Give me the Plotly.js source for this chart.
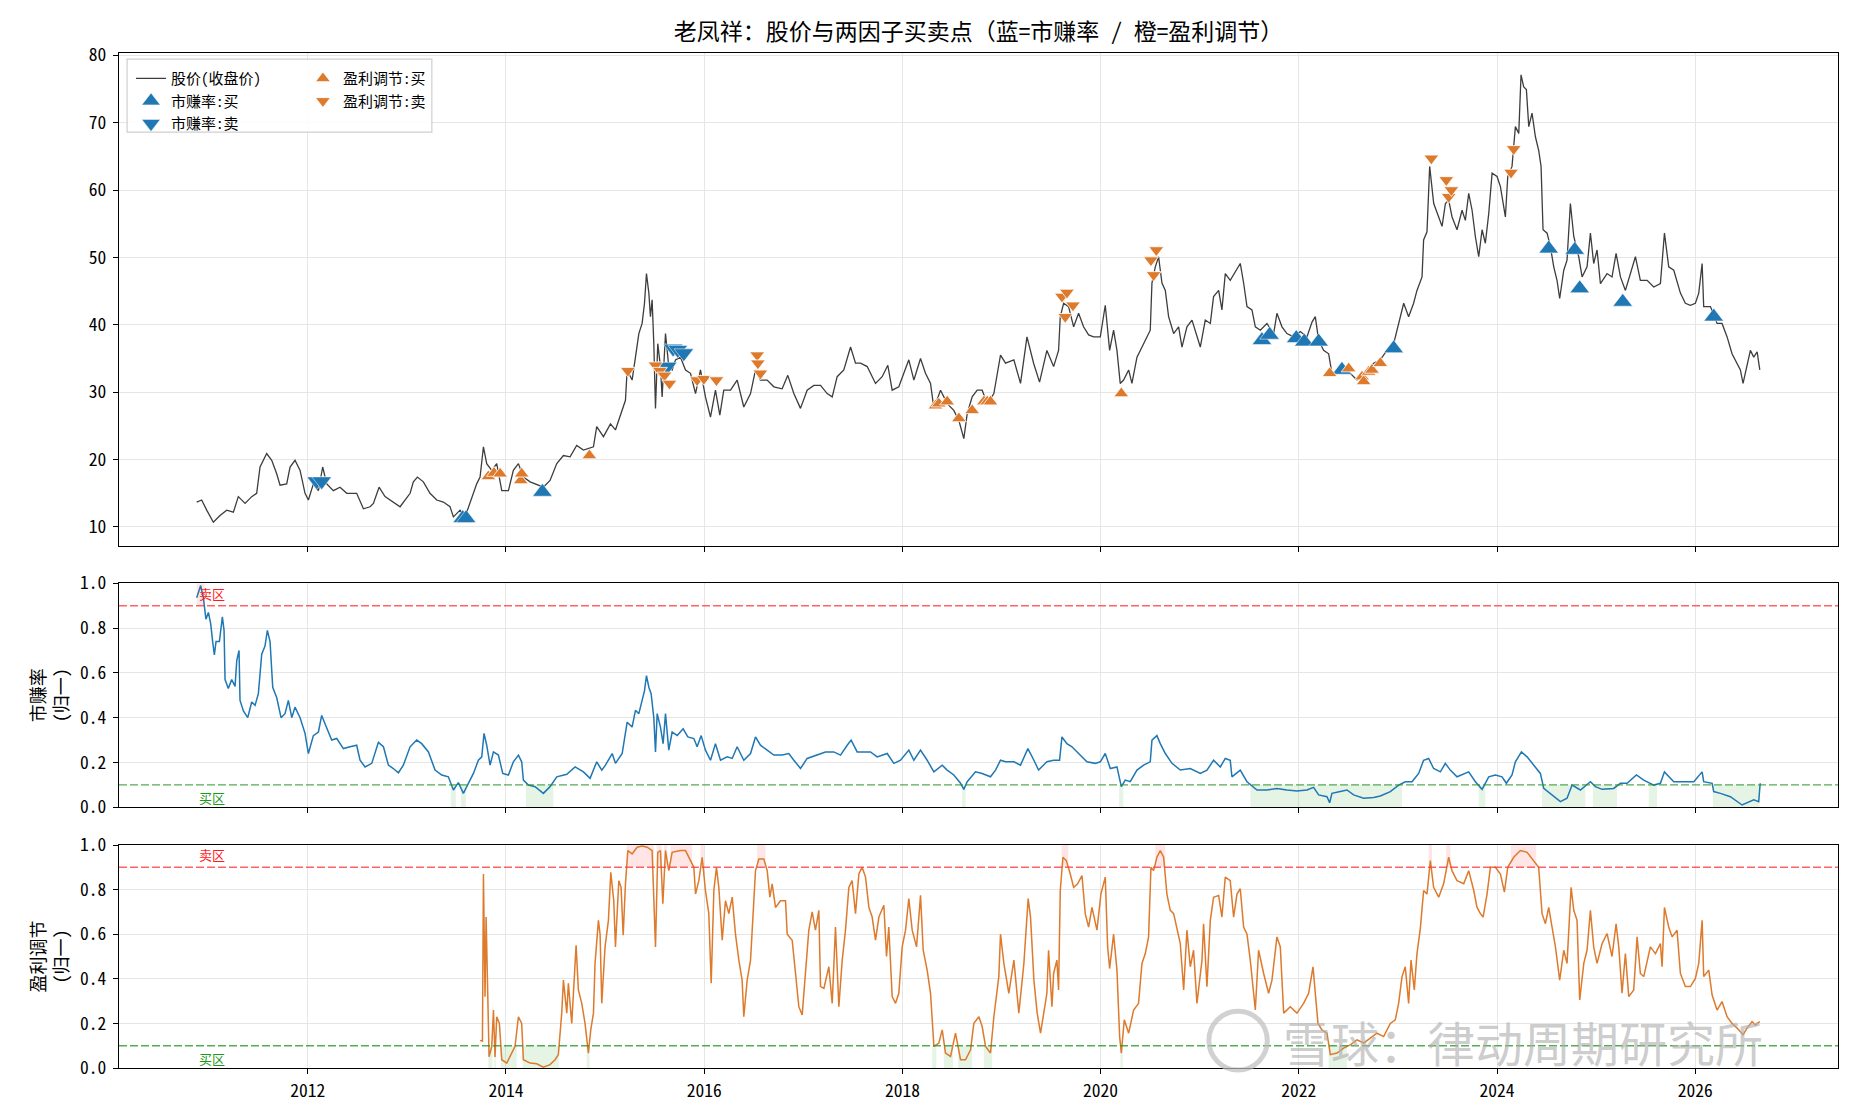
<!DOCTYPE html>
<html>
<head>
<meta charset="utf-8">
<script src="https://cdn.plot.ly/plotly-3.0.1.min.js"></script>
<style>html,body{margin:0;padding:0;background:#fff;}#chart{width:1859px;height:1118px;}</style>
</head>
<body>
<div id="chart"></div>
<script>
// ---------------- data ----------------
const tickYears = [2012, 2014, 2016, 2018, 2020, 2022, 2024, 2026];

const priceX = [2010.880,2010.930,2010.981,2011.048,2011.115,2011.183,2011.250,2011.300,2011.368,2011.435,2011.485,2011.519,2011.586,2011.637,2011.687,2011.721,2011.788,2011.822,2011.872,2011.923,2011.973,2012.007,2012.057,2012.108,2012.151,2012.192,2012.259,2012.326,2012.394,2012.494,2012.562,2012.629,2012.663,2012.720,2012.780,2012.864,2012.932,2013.033,2013.066,2013.107,2013.167,2013.234,2013.302,2013.369,2013.436,2013.470,2013.537,2013.588,2013.638,2013.705,2013.739,2013.773,2013.806,2013.857,2013.907,2013.958,2014.025,2014.075,2014.126,2014.176,2014.244,2014.328,2014.378,2014.445,2014.513,2014.580,2014.647,2014.714,2014.782,2014.883,2014.916,2014.984,
2015.055,2015.105,2015.156,2015.206,2015.223,2015.273,2015.307,2015.341,2015.374,2015.398,2015.418,2015.442,2015.458,2015.475,2015.492,2015.509,2015.532,2015.559,2015.576,2015.610,2015.643,2015.677,2015.711,2015.761,2015.812,2015.862,2015.913,2015.963,2016.013,2016.064,2016.114,2016.158,2016.198,2016.266,2016.333,2016.400,2016.468,2016.518,2016.568,2016.636,2016.703,2016.787,2016.844,2016.905,2016.972,2017.039,2017.107,2017.174,2017.241,2017.292,2017.342,2017.409,2017.477,2017.527,2017.578,2017.645,2017.729,2017.796,2017.853,2017.897,2017.964,2018.015,2018.065,2018.116,2018.183,2018.233,2018.284,2018.318,2018.385,2018.452,2018.519,2018.570,2018.620,2018.654,2018.704,2018.755,2018.805,2018.856,2018.923,2018.990,2019.041,2019.125,2019.192,
2019.257,2019.324,2019.384,2019.458,2019.526,2019.576,2019.593,2019.627,2019.677,2019.728,2019.778,2019.828,2019.879,2019.929,2019.997,2020.047,2020.091,2020.131,2020.165,2020.198,2020.232,2020.283,2020.316,2020.367,2020.434,2020.501,2020.518,2020.552,2020.585,2020.619,2020.653,2020.686,2020.737,2020.787,2020.821,2020.871,2020.922,2020.972,2021.006,2021.056,2021.107,2021.140,2021.191,2021.224,2021.258,2021.308,2021.359,2021.409,2021.443,2021.477,2021.527,2021.561,2021.611,2021.678,2021.746,2021.779,2021.830,2021.880,2021.948,2022.015,2022.082,2022.133,2022.166,2022.200,2022.250,2022.301,2022.334,2022.385,2022.519,2022.587,2022.654,2022.755,2022.822,2022.889,2022.957,2023.024,2023.058,2023.108,2023.158,2023.192,2023.243,2023.259,2023.293,2023.320,
2023.361,2023.411,2023.445,2023.479,2023.512,2023.546,2023.596,2023.647,2023.680,2023.714,2023.748,2023.781,2023.815,2023.849,2023.882,2023.916,2023.950,2024.000,2024.034,2024.084,2024.108,2024.151,2024.185,2024.219,2024.242,2024.269,2024.296,2024.320,2024.353,2024.387,2024.420,2024.444,2024.464,2024.505,2024.538,2024.572,2024.605,2024.632,2024.673,2024.706,2024.740,2024.774,2024.824,2024.858,2024.908,2024.942,2024.975,2025.009,2025.043,2025.110,2025.160,2025.201,2025.245,2025.295,2025.345,2025.396,2025.446,2025.514,2025.581,2025.648,2025.689,2025.732,2025.783,2025.816,2025.850,2025.900,2025.951,2026.001,2026.035,2026.069,2026.085,2026.153,2026.220,2026.270,2026.321,2026.371,2026.422,2026.455,2026.482,2026.523,2026.556,2026.590,2026.624,2026.651];
const priceY = [13.7,14.0,12.5,10.7,11.7,12.5,12.2,14.5,13.5,14.5,15.0,18.9,20.9,19.9,17.9,16.2,16.4,18.9,19.9,18.4,15.0,14.0,16.4,15.4,18.9,16.4,15.4,15.9,15.0,15.0,12.7,13.0,13.5,15.9,14.5,13.7,13.0,15.0,16.7,17.4,16.7,15.0,14.0,13.7,13.0,11.5,12.5,11.5,13.5,16.4,17.4,21.9,19.4,18.4,19.4,15.4,15.4,18.4,19.4,17.4,16.7,16.2,15.9,16.9,19.4,20.6,20.4,22.1,21.4,21.9,24.9,23.4,
25.3,24.4,26.8,28.8,33.3,31.8,35.2,38.7,40.2,43.2,47.6,44.7,41.2,43.7,37.2,27.6,37.2,33.8,29.3,38.7,33.8,33.3,34.8,35.2,33.3,32.8,29.8,33.3,29.3,26.3,30.3,26.6,30.3,30.3,31.8,27.8,29.8,33.3,31.8,31.8,30.8,30.5,32.5,29.8,27.6,30.3,31.0,31.0,29.8,29.3,32.3,33.3,36.7,34.3,34.3,33.8,31.3,32.3,34.0,30.3,30.8,32.8,34.8,31.8,35.0,32.8,31.3,27.6,30.3,28.3,27.3,25.8,23.1,26.8,29.3,30.3,30.3,28.3,29.8,35.5,34.3,34.8,31.3,
38.2,34.3,31.5,36.2,33.8,36.2,41.2,43.2,42.7,39.7,41.7,39.7,38.5,38.2,38.2,42.9,36.2,39.2,36.2,31.3,31.8,33.3,31.3,35.2,37.2,39.2,46.2,48.6,50.1,46.2,45.1,41.2,38.7,39.7,36.7,39.7,40.7,38.2,36.7,40.7,40.2,44.2,45.1,42.2,47.6,46.6,47.9,49.1,46.2,42.7,42.2,39.7,39.2,40.2,38.7,41.7,39.7,38.7,38.2,39.0,38.2,40.4,41.2,37.7,36.2,35.7,32.8,32.8,32.8,31.8,32.8,34.3,34.8,36.2,37.2,41.2,43.2,41.2,43.2,45.1,47.1,52.6,53.8,63.5,
58.0,56.0,54.6,58.0,58.5,56.0,54.1,57.0,55.5,59.5,57.0,53.1,50.1,54.1,52.1,56.5,62.5,62.0,60.5,56.0,62.0,63.5,69.4,68.4,77.1,75.3,74.9,69.4,71.4,67.9,65.9,63.5,54.1,53.6,51.6,48.6,46.6,43.9,48.1,49.6,58.0,53.1,50.1,47.1,48.6,53.6,49.1,51.1,46.1,47.6,47.1,50.6,47.1,45.1,47.6,50.1,46.6,46.6,45.6,46.1,53.6,48.6,48.1,46.6,44.7,43.2,42.9,43.2,44.7,49.1,42.7,42.7,40.2,40.2,38.2,35.7,34.3,33.3,31.3,33.8,36.2,35.2,36.0,33.3];

// 市赚率 (normalised)
const merX = [2010.880,2010.920,2010.947,2010.973,2010.998,2011.021,2011.041,2011.058,2011.075,2011.109,2011.139,2011.156,2011.166,2011.199,2011.233,2011.267,2011.284,2011.307,2011.317,2011.351,2011.395,2011.435,2011.469,2011.502,2011.536,2011.569,2011.593,2011.620,2011.647,2011.687,2011.731,2011.771,2011.805,2011.839,2011.872,2011.923,2011.973,2012.007,2012.057,2012.108,2012.141,2012.192,2012.242,2012.293,2012.360,2012.427,2012.494,2012.528,2012.579,2012.646,2012.713,2012.764,2012.814,2012.864,2012.915,2012.965,2013.033,2013.100,2013.150,2013.218,2013.285,2013.352,2013.419,2013.470,2013.520,2013.571,2013.621,2013.672,2013.722,2013.756,2013.779,2013.806,2013.840,2013.874,2013.924,2013.968,2014.025,2014.075,2014.126,2014.159,2014.176,2014.227,2014.294,2014.378,2014.445,2014.513,2014.614,2014.698,2014.782,2014.849,2014.916,2014.967,
2015.004,2015.072,2015.105,2015.173,2015.223,2015.273,2015.307,2015.341,2015.374,2015.398,2015.418,2015.442,2015.465,2015.492,2015.509,2015.526,2015.559,2015.586,2015.610,2015.643,2015.677,2015.728,2015.788,2015.835,2015.896,2015.929,2015.970,2016.013,2016.064,2016.114,2016.165,2016.232,2016.283,2016.333,2016.400,2016.468,2016.518,2016.568,2016.636,2016.703,2016.787,2016.854,2016.905,2016.972,2017.039,2017.140,2017.224,2017.308,2017.376,2017.443,2017.483,2017.544,2017.611,2017.678,2017.746,2017.847,2017.914,2017.981,2018.065,2018.116,2018.183,2018.250,2018.318,2018.402,2018.452,2018.519,2018.587,2018.620,2018.654,2018.738,2018.805,2018.889,2018.940,2018.990,2019.041,2019.125,2019.192,2019.266,2019.327,
2019.374,2019.458,2019.526,2019.586,2019.610,2019.660,2019.711,2019.778,2019.862,2019.946,2019.997,2020.047,2020.098,2020.165,2020.209,2020.249,2020.299,2020.367,2020.434,2020.501,2020.518,2020.568,2020.602,2020.653,2020.720,2020.804,2020.905,2021.006,2021.073,2021.140,2021.208,2021.258,2021.308,2021.325,2021.409,2021.477,2021.544,2021.578,2021.678,2021.779,2021.880,2021.981,2022.082,2022.149,2022.200,2022.284,2022.311,2022.334,2022.418,2022.486,2022.553,2022.654,2022.755,2022.822,2022.923,2023.007,2023.074,2023.142,2023.209,2023.259,2023.310,2023.360,2023.428,2023.478,2023.528,2023.596,
2023.714,2023.781,2023.849,2023.916,2023.983,2024.050,2024.094,2024.151,2024.185,2024.246,2024.303,2024.370,2024.437,2024.471,2024.538,2024.639,2024.706,2024.757,2024.841,2024.942,2024.992,2025.060,2025.177,2025.245,2025.312,2025.406,2025.480,2025.581,2025.648,2025.689,2025.783,2025.884,2025.985,2026.069,2026.085,2026.170,2026.186,2026.254,2026.354,2026.472,2026.540,2026.590,2026.640,2026.655];
const merY = [0.936,0.99,0.936,0.84,0.87,0.82,0.74,0.68,0.74,0.74,0.85,0.79,0.57,0.53,0.57,0.54,0.655,0.70,0.477,0.43,0.40,0.47,0.455,0.507,0.684,0.72,0.79,0.74,0.536,0.49,0.40,0.418,0.477,0.40,0.447,0.40,0.33,0.24,0.32,0.336,0.41,0.358,0.30,0.307,0.262,0.27,0.277,0.21,0.18,0.196,0.29,0.27,0.188,0.173,0.154,0.188,0.27,0.30,0.284,0.247,0.166,0.144,0.136,0.077,0.11,0.062,0.107,0.151,0.21,0.225,0.33,0.277,0.188,0.247,0.233,0.151,0.144,0.203,0.233,0.203,0.121,0.099,0.092,0.062,0.092,0.136,0.147,0.18,0.158,0.129,0.203,0.166,
0.188,0.24,0.196,0.24,0.38,0.358,0.433,0.418,0.477,0.52,0.588,0.536,0.507,0.40,0.247,0.418,0.358,0.284,0.418,0.255,0.336,0.32,0.35,0.314,0.307,0.27,0.32,0.255,0.21,0.284,0.21,0.225,0.218,0.27,0.21,0.24,0.314,0.277,0.255,0.233,0.233,0.24,0.21,0.173,0.218,0.233,0.247,0.247,0.233,0.277,0.30,0.247,0.247,0.247,0.225,0.24,0.196,0.21,0.255,0.21,0.255,0.21,0.158,0.188,0.166,0.144,0.107,0.08,0.114,0.158,0.151,0.136,0.166,0.21,0.203,0.203,0.188,0.262,0.21,
0.166,0.203,0.21,0.21,0.314,0.284,0.27,0.24,0.203,0.196,0.203,0.24,0.173,0.18,0.092,0.121,0.114,0.166,0.188,0.203,0.30,0.32,0.284,0.24,0.196,0.166,0.173,0.151,0.166,0.21,0.18,0.218,0.21,0.136,0.166,0.114,0.092,0.077,0.077,0.084,0.077,0.073,0.077,0.089,0.055,0.047,0.02,0.062,0.07,0.077,0.055,0.04,0.044,0.05,0.07,0.099,0.114,0.114,0.151,0.21,0.218,0.173,0.158,0.196,0.166,0.136,
0.158,0.114,0.08,0.136,0.144,0.136,0.107,0.144,0.203,0.247,0.225,0.188,0.151,0.084,0.062,0.025,0.04,0.099,0.077,0.114,0.092,0.08,0.084,0.107,0.107,0.144,0.121,0.099,0.107,0.158,0.114,0.114,0.114,0.158,0.114,0.107,0.07,0.062,0.047,0.01,0.025,0.033,0.025,0.107];

// 盈利调节 (normalised)
const adjX = [2013.739,2013.763,2013.773,2013.789,2013.800,2013.813,2013.830,2013.857,2013.874,2013.890,2013.907,2013.934,2013.958,2014.008,2014.059,2014.092,2014.126,2014.159,2014.176,2014.244,2014.311,2014.378,2014.445,2014.496,2014.529,2014.546,2014.563,2014.580,2014.614,2014.630,2014.664,2014.708,2014.731,2014.765,2014.798,2014.832,2014.856,2014.883,2014.899,2014.933,2014.950,2014.967,2015.000,2015.034,2015.058,
2015.088,2015.105,2015.139,2015.162,2015.183,2015.206,2015.230,2015.273,2015.324,2015.374,2015.425,2015.475,2015.509,2015.532,2015.559,2015.583,2015.610,2015.643,2015.677,2015.761,2015.812,2015.862,2015.896,2015.913,2015.946,2015.980,2016.013,2016.047,2016.071,2016.098,2016.124,2016.148,2016.182,2016.215,2016.249,2016.283,2016.316,2016.350,2016.383,2016.400,2016.434,2016.468,2016.494,2016.518,2016.552,2016.602,2016.636,2016.663,2016.686,2016.720,2016.770,2016.821,2016.838,2016.888,2016.922,2016.955,2016.989,2017.023,2017.056,2017.090,2017.123,2017.157,2017.174,2017.208,2017.258,2017.292,2017.325,2017.359,2017.393,2017.426,2017.460,2017.493,2017.527,2017.561,2017.594,2017.628,2017.662,2017.695,2017.729,2017.763,2017.813,2017.840,2017.863,2017.897,2017.931,2017.964,2017.998,2018.032,2018.065,2018.099,2018.143,2018.183,2018.210,2018.250,2018.284,2018.318,2018.368,2018.402,2018.435,2018.486,2018.536,2018.587,2018.637,2018.688,2018.721,2018.772,2018.805,2018.839,2018.889,2018.923,2018.973,2018.990,2019.024,2019.074,2019.125,2019.175,2019.226,2019.269,2019.293,2019.327,2019.360,2019.394,
2019.425,2019.458,2019.475,2019.509,2019.526,2019.559,2019.576,2019.593,2019.620,2019.654,2019.694,2019.728,2019.768,2019.812,2019.845,2019.879,2019.913,2019.963,2020.003,2020.047,2020.071,2020.091,2020.131,2020.165,2020.192,2020.209,2020.239,2020.283,2020.333,2020.383,2020.417,2020.451,2020.484,2020.508,2020.535,2020.568,2020.602,2020.636,2020.669,2020.703,2020.737,2020.770,2020.804,2020.838,2020.871,2020.905,2020.938,2020.972,2021.023,2021.039,2021.073,2021.107,2021.140,2021.191,2021.224,2021.258,2021.308,2021.342,2021.376,2021.409,2021.443,2021.477,2021.510,2021.561,2021.594,2021.645,2021.695,2021.729,2021.779,2021.813,2021.847,2021.914,2021.981,2022.048,2022.099,2022.143,2022.166,2022.193,2022.233,2022.284,2022.318,2022.385,2022.452,2022.519,2022.587,2022.654,2022.721,2022.788,2022.856,2022.923,2022.973,2023.007,2023.041,2023.074,2023.108,2023.132,2023.165,2023.192,2023.226,2023.259,2023.293,2023.327,2023.360,2023.411,2023.461,2023.512,2023.545,2023.596,
2023.664,2023.714,2023.765,2023.798,2023.832,2023.859,2023.899,2023.933,2023.983,2024.034,2024.074,2024.108,2024.168,2024.235,2024.303,2024.370,2024.420,2024.454,2024.488,2024.521,2024.555,2024.589,2024.632,2024.673,2024.706,2024.747,2024.774,2024.807,2024.834,2024.875,2024.908,2024.942,2024.975,2025.009,2025.060,2025.110,2025.160,2025.201,2025.228,2025.261,2025.295,2025.329,2025.379,2025.413,2025.446,2025.480,2025.547,2025.598,2025.648,2025.665,2025.689,2025.732,2025.766,2025.816,2025.850,2025.900,2025.951,2026.001,2026.035,2026.069,2026.085,2026.136,2026.170,2026.220,2026.270,2026.321,2026.371,2026.422,2026.482,2026.523,2026.573,2026.607,2026.651];
const adjY = [0.124,0.12,0.87,0.32,0.677,0.32,0.05,0.097,0.26,0.05,0.23,0.20,0.037,0.022,0.067,0.097,0.23,0.20,0.037,0.022,0.019,0.004,0.015,0.037,0.06,0.156,0.246,0.394,0.246,0.38,0.20,0.55,0.35,0.29,0.20,0.067,0.171,0.246,0.469,0.662,0.60,0.29,0.543,0.662,0.878,
0.75,0.543,0.84,0.81,0.595,0.826,0.975,0.96,0.99,0.995,0.99,0.975,0.543,0.967,0.975,0.737,0.975,0.885,0.967,0.975,0.975,0.93,0.90,0.78,0.84,0.945,0.796,0.692,0.38,0.796,0.90,0.81,0.573,0.75,0.692,0.766,0.60,0.484,0.394,0.23,0.394,0.484,0.692,0.885,0.937,0.937,0.885,0.766,0.826,0.72,0.75,0.75,0.60,0.573,0.424,0.275,0.238,0.424,0.618,0.70,0.618,0.707,0.365,0.357,0.454,0.29,0.632,0.275,0.484,0.618,0.81,0.84,0.692,0.87,0.90,0.856,0.72,0.677,0.573,0.677,0.73,0.50,0.632,0.32,0.29,0.335,0.543,0.618,0.76,0.618,0.543,0.774,0.528,0.439,0.335,0.097,0.112,0.171,0.067,0.052,0.156,0.037,0.037,0.082,0.20,0.23,0.186,0.097,0.067,0.23,0.41,0.60,0.469,0.335,0.484,0.246,0.469,0.76,0.677,0.394,0.246,0.156,
0.246,0.335,0.528,0.275,0.424,0.484,0.35,0.796,0.945,0.93,0.87,0.81,0.826,0.863,0.692,0.632,0.72,0.618,0.78,0.856,0.543,0.446,0.60,0.439,0.141,0.067,0.216,0.156,0.26,0.29,0.469,0.513,0.588,0.90,0.885,0.945,0.975,0.945,0.78,0.707,0.692,0.632,0.558,0.35,0.618,0.454,0.528,0.29,0.484,0.647,0.365,0.662,0.766,0.774,0.677,0.856,0.84,0.677,0.78,0.804,0.632,0.60,0.484,0.26,0.528,0.424,0.335,0.394,0.588,0.543,0.246,0.275,0.246,0.29,0.335,0.454,0.335,0.20,0.171,0.156,0.06,0.067,0.089,0.104,0.126,0.112,0.134,0.156,0.141,0.20,0.216,0.29,0.41,0.454,0.29,0.484,0.35,0.513,0.625,0.796,0.78,0.93,0.81,0.766,0.826,0.945,0.885,0.84,
0.826,0.885,0.796,0.72,0.692,0.677,0.78,0.90,0.90,0.87,0.789,0.90,0.945,0.975,0.967,0.93,0.90,0.692,0.647,0.72,0.632,0.543,0.394,0.528,0.469,0.81,0.707,0.662,0.305,0.469,0.528,0.707,0.543,0.469,0.558,0.603,0.50,0.647,0.543,0.335,0.513,0.32,0.35,0.588,0.424,0.41,0.543,0.513,0.558,0.454,0.72,0.632,0.588,0.618,0.424,0.365,0.365,0.402,0.469,0.662,0.41,0.439,0.327,0.26,0.298,0.23,0.20,0.179,0.149,0.179,0.208,0.193,0.208];

// buy / sell signal points on the price chart
const merBuyX = [2013.564,2013.598,2014.368,2021.628,2021.705,2021.974,2022.055,2022.200,2022.435,2022.957,2024.521,2024.784,2024.834,2025.268,2026.186];
const merBuyY = [11.3,11.3,15.2,37.7,38.5,38.0,37.5,37.5,33.3,36.5,51.3,51.1,45.4,43.4,41.2];
const merSellX = [2012.091,2012.141,2015.627,2015.687,2015.734,2015.795];
const merSellY = [16.8,16.8,33.8,36.5,36.3,35.8];
const adjBuyX = [2013.823,2013.880,2013.941,2014.149,2014.159,2014.842,2018.334,2018.368,2018.452,2018.570,2018.704,2018.822,2018.856,2018.889,2020.209,2022.311,2022.503,2022.637,2022.654,2022.704,2022.738,2022.822];
const adjBuyY = [17.5,18.0,17.9,16.9,17.9,20.6,28.0,28.3,28.6,26.1,27.3,28.6,28.6,28.6,29.8,32.8,33.5,32.3,31.6,33.0,33.3,34.3];
const adjSellX = [2015.230,2015.509,2015.553,2015.600,2015.650,2015.929,2015.997,2016.124,2016.535,2016.542,2016.568,2019.610,2019.643,2019.660,2019.721,2020.508,2020.535,2020.562,2023.337,2023.488,2023.512,2023.539,2024.141,2024.168];
const adjSellY = [33.2,34.0,33.2,32.5,31.3,31.8,32.0,31.8,35.5,34.3,32.8,44.2,41.2,44.8,42.9,49.6,47.4,51.1,64.7,61.5,59.0,60.0,62.6,66.1];

const sellZone = 0.9;
const buyZone = 0.1;

// ---------------- styling ----------------
const FONT = "Noto Sans Mono CJK SC, Noto Sans CJK SC, sans-serif";
const BLUE = '#1f77b4';
const ORANGE = '#dd7a2c';
const GRID = '#e6e6e6';

// zone shading built from the series
function zoneShapes(xs, ys, test, y0, y1, xref, yref, color) {
  const out = [];
  let start = null, end = null;
  for (let i = 0; i < xs.length; i++) {
    if (test(ys[i])) {
      const l = i > 0 ? (xs[i - 1] + xs[i]) / 2 : xs[i];
      const r = i < xs.length - 1 ? (xs[i] + xs[i + 1]) / 2 : xs[i];
      if (start === null) start = l;
      end = r;
    } else if (start !== null) {
      out.push({type:'rect', xref, yref, x0:start, x1:end, y0, y1, fillcolor:color, line:{width:0}, layer:'between'});
      start = null;
    }
  }
  if (start !== null) out.push({type:'rect', xref, yref, x0:start, x1:end, y0, y1, fillcolor:color, line:{width:0}, layer:'between'});
  return out;
}
const GREENFILL = 'rgba(60,170,60,0.13)';
const REDFILL = 'rgba(255,80,80,0.15)';

const shapes = [].concat(
  zoneShapes(merX, merY, v => v < buyZone, 0, buyZone, 'x2', 'y2', GREENFILL),
  zoneShapes(merX, merY, v => v > sellZone, sellZone, 1, 'x2', 'y2', REDFILL),
  zoneShapes(adjX, adjY, v => v < buyZone, 0, buyZone, 'x3', 'y3', GREENFILL),
  zoneShapes(adjX, adjY, v => v > sellZone, sellZone, 1, 'x3', 'y3', REDFILL),
  [
    {type:'line', xref:'x2 domain', yref:'y2', x0:0, x1:1, y0:sellZone, y1:sellZone, line:{color:'rgba(255,60,60,0.8)', width:1.4, dash:'8px,3px'}, layer:'above'},
    {type:'line', xref:'x2 domain', yref:'y2', x0:0, x1:1, y0:buyZone, y1:buyZone, line:{color:'rgba(40,150,40,0.8)', width:1.4, dash:'8px,3px'}, layer:'above'},
    {type:'line', xref:'x3 domain', yref:'y3', x0:0, x1:1, y0:sellZone, y1:sellZone, line:{color:'rgba(255,60,60,0.8)', width:1.4, dash:'8px,3px'}, layer:'above'},
    {type:'line', xref:'x3 domain', yref:'y3', x0:0, x1:1, y0:buyZone, y1:buyZone, line:{color:'rgba(40,150,40,0.8)', width:1.4, dash:'8px,3px'}, layer:'above'},
    // legend frame
    {type:'rect', xref:'paper', yref:'paper', x0:0.0047, x1:0.182, y0:0.922, y1:0.994, line:{color:'#cfcfcf', width:1.2}, fillcolor:'rgba(255,255,255,0.85)', layer:'above'},
    // watermark logo ring
    {type:'circle', xref:'paper', yref:'paper', x0:0.634, x1:0.668, y0:-0.002, y1:0.056, line:{color:'rgba(190,190,190,0.7)', width:5}, layer:'above'}
  ]
);

const traces = [
  {x:priceX, y:priceY, xaxis:'x', yaxis:'y', type:'scatter', mode:'lines', name:'股价(收盘价)', line:{color:'#3d3d3d', width:1.3}, legend:'legend', legendrank:1},
  {x:merBuyX, y:merBuyY, xaxis:'x', yaxis:'y', type:'scatter', mode:'markers', name:'市赚率:买', marker:{symbol:'triangle-up', size:17, color:BLUE, line:{color:'white', width:0.5}}, legend:'legend', legendrank:2},
  {x:merSellX, y:merSellY, xaxis:'x', yaxis:'y', type:'scatter', mode:'markers', name:'市赚率:卖', marker:{symbol:'triangle-down', size:17, color:BLUE, line:{color:'white', width:0.5}}, legend:'legend', legendrank:3},
  {x:adjBuyX, y:adjBuyY, xaxis:'x', yaxis:'y', type:'scatter', mode:'markers', name:'盈利调节:买', marker:{symbol:'triangle-up', size:13, color:ORANGE, line:{color:'white', width:0.8}}, legend:'legend2', legendrank:1},
  {x:adjSellX, y:adjSellY, xaxis:'x', yaxis:'y', type:'scatter', mode:'markers', name:'盈利调节:卖', marker:{symbol:'triangle-down', size:13, color:ORANGE, line:{color:'white', width:0.8}}, legend:'legend2', legendrank:2},
  {x:merX, y:merY, xaxis:'x2', yaxis:'y2', type:'scatter', mode:'lines', name:'市赚率', line:{color:BLUE, width:1.5}, showlegend:false},
  {x:adjX, y:adjY, xaxis:'x3', yaxis:'y3', type:'scatter', mode:'lines', name:'盈利调节', line:{color:ORANGE, width:1.5}, showlegend:false}
];

const xRange = [2010.096, 2027.44];
function xaxisCfg(domainAnchor, showLabels) {
  return {
    anchor: domainAnchor, range: xRange, type:'linear',
    tickmode:'array', tickvals: tickYears, ticktext: tickYears.map(String),
    showticklabels: showLabels, ticks:'outside', ticklen:5, tickwidth:1, tickcolor:'#000', ticklabelstandoff:2,
    showgrid:true, gridcolor:GRID, gridwidth:1, zeroline:false,
    showline:true, linecolor:'#000', linewidth:1.2, mirror:true,
    tickfont:{size:17.5, color:'#000', family:FONT}
  };
}
function yaxisCfg(domain, range, dtick, fmt, title) {
  const c = {
    domain, range, dtick, tick0:0, tickformat:fmt,
    ticks:'outside', ticklen:5, tickwidth:1, tickcolor:'#000', ticklabelstandoff:3,
    showgrid:true, gridcolor:GRID, gridwidth:1, zeroline:false,
    showline:true, linecolor:'#000', linewidth:1.2, mirror:true,
    tickfont:{size:17.5, color:'#000', family:FONT}
  };
  if (title) c.title = {text:title, font:{size:18, color:'#000', family:FONT}, standoff:6};
  return c;
}

const layout = {
  width:1859, height:1118,
  margin:{l:119, r:21, t:53, b:50},
  paper_bgcolor:'#fff', plot_bgcolor:'#fff',
  font:{family:FONT, color:'#000'},
  title:{text:'老凤祥：股价与两因子买卖点（蓝=市赚率 / 橙=盈利调节）', x:0.5, xref:'paper', xanchor:'center', y:0.9714, yref:'container', yanchor:'middle', font:{size:23, color:'#000', family:FONT}},
  xaxis: xaxisCfg('y', false),
  xaxis2: Object.assign(xaxisCfg('y2', false), {matches:'x'}),
  xaxis3: Object.assign(xaxisCfg('y3', true), {matches:'x'}),
  yaxis: yaxisCfg([0.5143, 1], [7.18, 80.33], 10, 'd', null),
  yaxis2: yaxisCfg([0.2569, 0.4775], [0, 1], 0.2, '.1f', '市赚率<br>(归一)'),
  yaxis3: yaxisCfg([0, 0.2197], [0, 1], 0.2, '.1f', '盈利调节<br>(归一)'),
  showlegend:true,
  legend:{x:0.007, y:0.991, xanchor:'left', yanchor:'top', bgcolor:'rgba(0,0,0,0)', borderwidth:0, font:{size:15, family:FONT, color:'#000'}, tracegroupgap:0, itemwidth:30},
  legend2:{x:0.107, y:0.991, xanchor:'left', yanchor:'top', bgcolor:'rgba(0,0,0,0)', borderwidth:0, font:{size:15, family:FONT, color:'#000'}, tracegroupgap:0, itemwidth:30},
  shapes: shapes,
  annotations:[
    {xref:'x2', yref:'y2', x:priceX[0], y:sellZone + 0.005, text:'卖区', showarrow:false, xanchor:'left', yanchor:'bottom', font:{size:13, color:'#ff1a1a', family:FONT}},
    {xref:'x2', yref:'y2', x:priceX[0], y:buyZone - 0.005, text:'买区', showarrow:false, xanchor:'left', yanchor:'top', font:{size:13, color:'#1a9a1a', family:FONT}},
    {xref:'x3', yref:'y3', x:priceX[0], y:sellZone + 0.005, text:'卖区', showarrow:false, xanchor:'left', yanchor:'bottom', font:{size:13, color:'#ff1a1a', family:FONT}},
    {xref:'x3', yref:'y3', x:priceX[0], y:buyZone - 0.005, text:'买区', showarrow:false, xanchor:'left', yanchor:'top', font:{size:13, color:'#1a9a1a', family:FONT}},
    {xref:'paper', yref:'paper', x:0.676, y:0.027, xanchor:'left', yanchor:'middle', text:'雪球：律动周期研究所', showarrow:false, font:{size:48, color:'rgba(175,175,175,0.65)', family:"Noto Sans CJK SC, sans-serif"}}
  ]
};

Plotly.newPlot('chart', traces, layout, {displayModeBar:false, staticPlot:true});
</script>
</body>
</html>
